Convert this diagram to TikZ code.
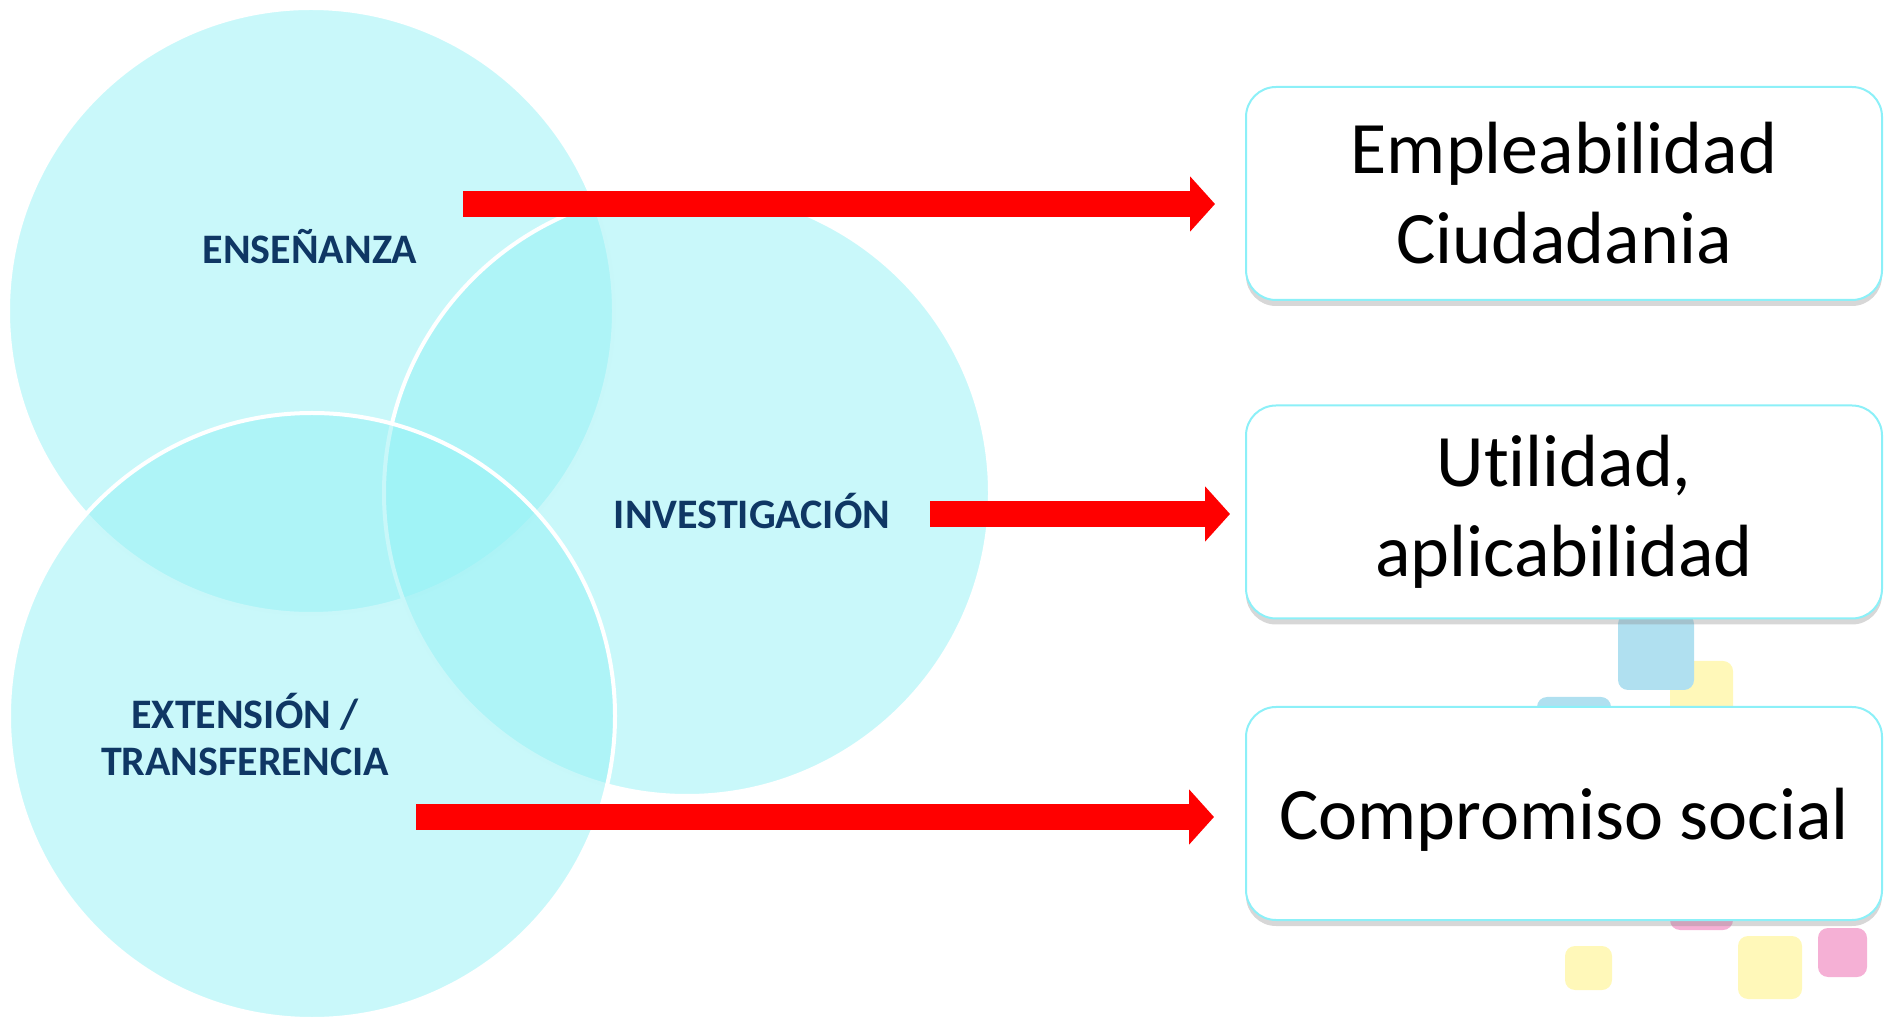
\documentclass[tikz,border=0pt]{standalone}
\usepackage{fontspec}
\setmainfont{Carlito}[Ligatures=NoCommon]
\usetikzlibrary{arrows.meta,shadows}

\definecolor{venncyan}{RGB}{147,241,245}
\definecolor{labelblue}{RGB}{15,55,100}
\definecolor{boxline}{RGB}{140,240,248}
\definecolor{sqblue}{RGB}{176,224,240}
\definecolor{sqyellow}{RGB}{255,248,185}
\definecolor{sqpink}{RGB}{245,176,213}

\tikzset{
  venn/.style={circle, minimum size=606*0.5pt, fill=venncyan, fill opacity=0.5, draw=white, line width=2pt},
  vennlabel/.style={text=labelblue, font=\fontsize{21}{23.5}\selectfont\bfseries, align=center, inner sep=0pt},
  outbox/.style={draw=boxline, line width=1pt, fill=white, rounded corners=15pt, minimum width=318pt, minimum height=106.5pt, align=center, font=\fontsize{37}{45}\selectfont, drop shadow={shadow xshift=0pt, shadow yshift=-3pt, opacity=0.35, fill=black!45}},
  bigarrow/.style={red, line width=13pt, -{Triangle[length=12.5pt,width=27pt]}},
  deco/.style={rounded corners=5pt}
}

\begin{document}
\begin{tikzpicture}[x=0.5pt,y=0.5pt,yscale=-1,xscale=1]
        \useasboundingbox (0,0) rectangle (1884,1020);

        %Shape: Circle [ensenanza]
        \node[venn] (ens) at (311,311) {};
        %Shape: Circle [investigacion]
        \node[venn] (inv) at (687,493) {};
        %Shape: Circle [extension]
        \node[venn] (ext) at (312,716) {};

        % Text Node
        \node[vennlabel] (lens) at (310,247) {ENSEÑANZA};
        % Text Node
        \node[vennlabel] (linv) at (752,511) {INVESTIGACIÓN};
        % Text Node
        \node[vennlabel] (lext) at (245,735) {EXTENSIÓN /\\TRANSFERENCIA};

        %Shape: Squares behind the boxes
        \fill[sqyellow,deco] (1670,661) rectangle (1733,724);
        \fill[sqblue,deco] (1618,614) rectangle (1694,690);
        \fill[sqblue,deco] (1537,697) rectangle (1611,771);
        \fill[sqpink,deco] (1670,867) rectangle (1733,930);
        \fill[sqyellow,deco] (1565,946) rectangle (1612,990);
        \fill[sqyellow,deco] (1738,936) rectangle (1802,999);
        \fill[sqpink,deco] (1818,928) rectangle (1867,977);

        % Box Nodes
        \node[outbox] (emp) at (1564,193.5) {Empleabilidad\\Ciudadania};
        \node[outbox] (uti) at (1564,512) {Utilidad,\\aplicabilidad};
        \node[outbox, text depth=0pt] (com) at (1564,813.5) {Compromiso social};

        %Arrows
        \coordinate (a1) at (463,204);
        \coordinate (a2) at (930,514);
        \coordinate (a3) at (416,817);
        \draw[bigarrow, shorten >=15pt] (a1) -- (a1 -| emp.west);
        \draw[bigarrow, shorten >=7.5pt] (a2) -- (a2 -| uti.west);
        \draw[bigarrow, shorten >=15.5pt] (a3) -- (a3 -| com.west);

\end{tikzpicture}
\end{document}
